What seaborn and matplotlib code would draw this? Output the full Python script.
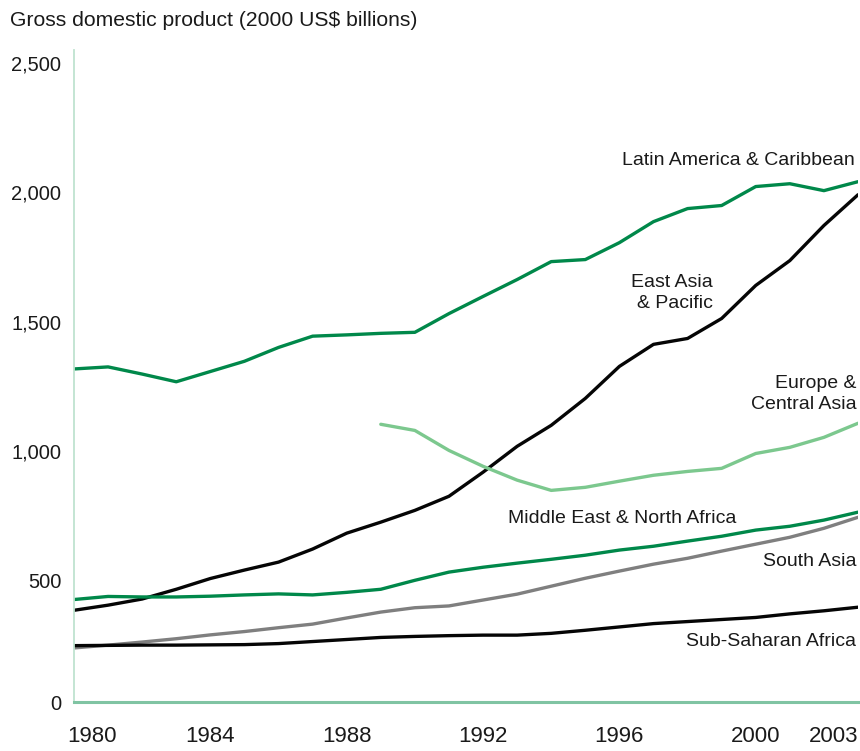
import matplotlib
matplotlib.use("Agg")
import matplotlib.pyplot as plt
import matplotlib.transforms as mtransforms
import numpy as np
import pandas as pd
import seaborn as sns

# ---------------- data ----------------
years = list(range(1980, 2004))
latin_america = [1300, 1308, 1280, 1250, 1290, 1330, 1384, 1428, 1433, 1439, 1443, 1516,
                 1583, 1649, 1719, 1727, 1793, 1875, 1926, 1938, 2012, 2023, 1996, 2031]
east_asia = [358, 378, 402, 440, 482, 515, 546, 597, 659, 702, 748, 803,
             897, 998, 1080, 1185, 1310, 1396, 1419, 1497, 1626, 1723, 1860, 1980]
europe_years = list(range(1989, 2004))
europe = [1084, 1060, 982, 920, 866, 826, 838, 862, 885, 900, 912, 970, 994, 1033, 1088]
middle_east = [400, 412, 410, 410, 413, 418, 422, 418, 428, 440, 475, 507,
               526, 542, 557, 573, 593, 608, 628, 647, 671, 686, 710, 741]
south_asia = [211, 222, 234, 247, 262, 275, 290, 304, 328, 351, 368, 375,
              398, 421, 452, 483, 511, 538, 561, 589, 616, 643, 678, 721]
sub_saharan = [220, 221, 222, 222, 223, 224, 228, 236, 244, 252, 256, 259,
               261, 261, 268, 280, 293, 306, 314, 322, 330, 344, 356, 370]

regions = ["Latin America & Caribbean", "East Asia & Pacific", "Europe & Central Asia",
           "Middle East & North Africa", "South Asia", "Sub-Saharan Africa"]
region_labels = ["Latin America & Caribbean", "East Asia\n& Pacific", "Europe &\nCentral Asia",
                 "Middle East & North Africa", "South Asia", "Sub-Saharan Africa"]
x_tick_years = [1980, 1984, 1988, 1992, 1996, 2000, 2003]
y_ticks = [0, 500, 1000, 1500, 2000, 2500]
title = "Gross domestic product (2000 US$ billions)"

series = {
    regions[0]: (years, latin_america),
    regions[1]: (years, east_asia),
    regions[2]: (europe_years, europe),
    regions[3]: (years, middle_east),
    regions[4]: (years, south_asia),
    regions[5]: (years, sub_saharan),
}
rows = []
for reg, (xs, vs) in series.items():
    for x, v in zip(xs, vs):
        rows.append({"year": x, "gdp": v, "region": reg})
df = pd.DataFrame(rows)

palette = {
    regions[0]: "#00884a",
    regions[1]: "#050505",
    regions[2]: "#7cc88e",
    regions[3]: "#00884a",
    regions[4]: "#7f7f7f",
    regions[5]: "#050505",
}

# ---------------- style ----------------
sns.set_theme(style="white")
plt.rcParams["font.family"] = ["Liberation Sans", "DejaVu Sans"]

fig = plt.figure(figsize=(8.6, 7.51), dpi=100)
ax = fig.add_axes([74 / 860, 49 / 751, (858 - 74) / 860, (702 - 50) / 751])

sns.lineplot(data=df, x="year", y="gdp", hue="region", palette=palette,
             hue_order=regions, linewidth=2.4, legend=False, ax=ax, sort=True)

ax.set_xlim(1980, 2003)
ax.set_ylim(0, 2545)
ax.set_xlabel("")
ax.set_ylabel("")

ax.set_yticks(y_ticks)
ax.set_yticklabels([f"{v:,}" for v in y_ticks])
ax.set_xticks(x_tick_years)
ax.set_xticklabels([str(y) for y in x_tick_years])
ax.tick_params(axis="both", length=0, colors="#1a1a1a")
ax.tick_params(axis="y", pad=9, labelsize=14.5)
ax.tick_params(axis="x", pad=17, labelsize=16)

xt = ax.get_xticklabels()
xt[0].set_ha("left")
xt[0].set_transform(xt[0].get_transform() + mtransforms.ScaledTranslation(-7 / 100, 0, fig.dpi_scale_trans))
xt[-1].set_ha("right")

yt = ax.get_yticklabels()
for lab, dy in zip(yt[1:], [7, 5, 4, 2, 1]):
    lab.set_transform(lab.get_transform() + mtransforms.ScaledTranslation(0, -dy / 100, fig.dpi_scale_trans))

for side in ["top", "right"]:
    ax.spines[side].set_visible(False)
ax.spines["left"].set_color("#bfe3d0")
ax.spines["left"].set_linewidth(1.3)
ax.spines["bottom"].set_color("#80c4a3")
ax.spines["bottom"].set_linewidth(2.2)
ax.grid(False)

# ---------------- labels ----------------
txt_kw = dict(fontsize=14, color="#1a1a1a", linespacing=1.3)
ax.text(2002.9, 2112, region_labels[0], ha="right", va="center", **txt_kw)
ax.text(1998.74, 1596, region_labels[1], ha="right", va="center", multialignment="right", **txt_kw)
ax.text(2002.95, 1202, region_labels[2], ha="right", va="center", multialignment="right", **txt_kw)
ax.text(1996.07, 718, region_labels[3], ha="center", va="center", **txt_kw)
ax.text(2002.95, 550, region_labels[4], ha="right", va="center", **txt_kw)
ax.text(2002.95, 238, region_labels[5], ha="right", va="center", **txt_kw)

fig.text(10 / 860, 1 - 21 / 751, title, ha="left", va="center", fontsize=15.2, color="#1a1a1a")

fig.savefig("out.png", dpi=100, facecolor="white")
